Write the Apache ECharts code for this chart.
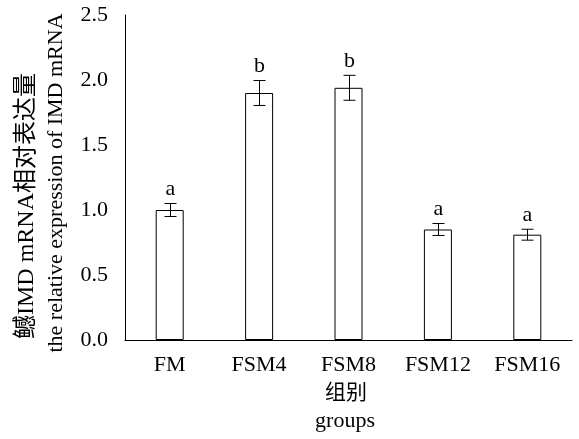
<!DOCTYPE html>
<html>
<head>
<meta charset="utf-8">
<script src="https://cdn.jsdelivr.net/npm/echarts@6/dist/echarts.min.js"></script>
<style>
html,body{margin:0;padding:0;background:#fff;}
#chart{width:579px;height:439px;}
</style>
</head>
<body>
<div id="chart"></div>
<script>
var categories = ['FM', 'FSM4', 'FSM8', 'FSM12', 'FSM16'];
var means = [1.00, 1.90, 1.94, 0.85, 0.81];
var errors = [0.05, 0.096, 0.096, 0.046, 0.042];
var letters = ['a', 'b', 'b', 'a', 'a'];
var yTicks = [0.0, 0.5, 1.0, 1.5, 2.0, 2.5];

var FONT = '"Liberation Serif", "Times New Roman", "Noto Sans CJK SC", serif';
var chart = echarts.init(document.getElementById('chart'), null, {renderer: 'canvas'});

var errData = categories.map(function (c, i) { return [i, means[i], errors[i]]; });

var option = {
  animation: false,
  backgroundColor: '#fff',
  grid: {left: 125, right: 7, top: 15, bottom: 99, containLabel: false},
  xAxis: {
    type: 'category',
    data: categories,
    axisTick: {show: false},
    axisLine: {lineStyle: {color: '#000', width: 1}},
    axisLabel: {color: '#000', fontFamily: FONT, fontSize: 22, margin: 14}
  },
  yAxis: {
    type: 'value',
    min: yTicks[0],
    max: yTicks[yTicks.length - 1],
    interval: 0.5,
    splitLine: {show: false},
    axisTick: {show: false},
    axisLine: {show: true, lineStyle: {color: '#000', width: 1}},
    axisLabel: {
      color: '#000', fontFamily: FONT, fontSize: 22, margin: 17,
      formatter: function (v) { return v.toFixed(1); }
    }
  },
  graphic: [
    {type: 'text', x: 27, y: 206, rotation: Math.PI / 2,
     style: {text: '鳡IMD mRNA相对表达量', font: '24px ' + FONT, fill: '#000', align: 'center', verticalAlign: 'middle'}},
    {type: 'text', x: 56, y: 183, rotation: Math.PI / 2,
     style: {text: 'the relative expression of IMD mRNA', font: '22px ' + FONT, fill: '#000', align: 'center', verticalAlign: 'middle'}},
    {type: 'text', x: 346, y: 393,
     style: {text: '组别', font: '21px ' + FONT, fill: '#000', align: 'center', verticalAlign: 'middle'}},
    {type: 'text', x: 345, y: 421,
     style: {text: 'groups', font: '22px ' + FONT, fill: '#000', align: 'center', verticalAlign: 'middle'}}
  ],
  series: [
    {
      type: 'bar',
      data: means,
      barWidth: 28,
      itemStyle: {color: '#fff', borderColor: '#000', borderWidth: 1},
      z: 2
    },
    {
      type: 'custom',
      data: errData,
      z: 3,
      renderItem: function (params, api) {
        var i = api.value(0);
        var m = api.value(1);
        var e = api.value(2);
        var top = api.coord([i, m + e]);
        var bot = api.coord([i, m - e]);
        var x = Math.round(top[0]) + 0.5;
        var hw = 6;
        var lineStyle = {stroke: '#000', lineWidth: 1};
        return {
          type: 'group',
          children: [
            {type: 'line', shape: {x1: x, y1: top[1], x2: x, y2: bot[1]}, style: lineStyle},
            {type: 'line', shape: {x1: x - hw, y1: top[1], x2: x + hw, y2: top[1]}, style: lineStyle},
            {type: 'line', shape: {x1: x - hw, y1: bot[1], x2: x + hw, y2: bot[1]}, style: lineStyle},
            {type: 'text', x: x, y: top[1] - 3,
             style: {text: letters[params.dataIndex], font: '22px ' + FONT, fill: '#000', align: 'center', verticalAlign: 'bottom'}}
          ]
        };
      }
    }
  ]
};
chart.setOption(option);
</script>
</body>
</html>
